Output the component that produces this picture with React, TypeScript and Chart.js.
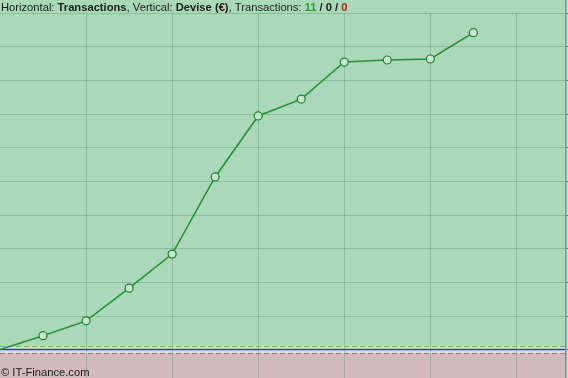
import React, { useEffect, useRef } from "react";
import { Chart, registerables } from "chart.js";

Chart.register(...registerables);

// Transaction index (0 = start) and cumulative amount in €
const transactionIndex = [0, 1, 2, 3, 4, 5, 6, 7, 8, 9, 10, 11];
const cumulativeValue = [0, 41, 85, 182, 283, 512, 693, 743, 853, 859, 862, 940];
const yGridValues = [100, 200, 300, 400, 500, 600, 700, 800, 900, 1000];
const xGridValues = [2, 4, 6, 8, 10, 12];

const headerParts = [
  { text: "Horizontal: ", bold: false, color: "#1a1a1a" },
  { text: "Transactions", bold: true, color: "#1a1a1a" },
  { text: ", Vertical: ", bold: false, color: "#1a1a1a" },
  { text: "Devise (€)", bold: true, color: "#1a1a1a" },
  { text: ", Transactions: ", bold: false, color: "#1a1a1a" },
  { text: "11", bold: true, color: "#2f9a2f" },
  { text: " / ", bold: true, color: "#1a1a1a" },
  { text: "0", bold: true, color: "#1a1a1a" },
  { text: " / ", bold: true, color: "#1a1a1a" },
  { text: "0", bold: true, color: "#b02020" },
];
const footerText = "© IT-Finance.com";

const BG_GREEN = "#a9d9b9";
const BG_PINK = "#d3babe";
const FONT = `"Liberation Sans", Arial, sans-serif`;

const backgroundPlugin = {
  id: "itfBackground",
  beforeDatasetsDraw(chart: any) {
    const { ctx, chartArea, scales } = chart;
    const x = scales.x;
    const y = scales.y;
    const y0 = Math.round(y.getPixelForValue(0)) + 0.5;
    const w = chartArea.right - chartArea.left;
    ctx.save();
    ctx.fillStyle = BG_GREEN;
    ctx.fillRect(chartArea.left, 0, w, y0);
    ctx.fillStyle = BG_PINK;
    ctx.fillRect(chartArea.left, y0, w, chart.height - y0);
    ctx.fillStyle = "#d6e0dc";
    ctx.fillRect(chartArea.left, y0 - 3, w, 7);
    ctx.lineWidth = 1;
    ctx.strokeStyle = "rgba(70,120,85,0.28)";
    for (const v of yGridValues) {
      const py = Math.round(y.getPixelForValue(v)) + 0.5;
      ctx.beginPath();
      ctx.moveTo(chartArea.left, py);
      ctx.lineTo(chartArea.right, py);
      ctx.stroke();
    }
    for (const v of xGridValues) {
      const px = Math.round(x.getPixelForValue(v)) + 0.5;
      ctx.beginPath();
      ctx.moveTo(px, 13);
      ctx.lineTo(px, chart.height);
      ctx.stroke();
    }
    ctx.setLineDash([5, 3]);
    ctx.strokeStyle = "#6cb67c";
    ctx.beginPath();
    ctx.moveTo(chartArea.left, y0 - 3);
    ctx.lineTo(chartArea.right, y0 - 3);
    ctx.stroke();
    ctx.strokeStyle = "#b07080";
    ctx.beginPath();
    ctx.moveTo(chartArea.left, y0 + 4);
    ctx.lineTo(chartArea.right, y0 + 4);
    ctx.stroke();
    ctx.setLineDash([]);
    ctx.strokeStyle = "#2a44a8";
    ctx.lineWidth = 1.5;
    ctx.beginPath();
    ctx.moveTo(chartArea.left, y0);
    ctx.lineTo(chartArea.right, y0);
    ctx.stroke();
    ctx.restore();
  },
  afterDraw(chart: any) {
    const { ctx, chartArea, scales } = chart;
    const y = scales.y;
    ctx.save();
    ctx.fillStyle = "#c4dce6";
    ctx.fillRect(chartArea.right, 0, chart.width - chartArea.right, chart.height);
    ctx.fillStyle = "#6e9a80";
    ctx.fillRect(chartArea.right, 0, 1.5, chart.height);
    ctx.fillStyle = "#5a6a78";
    for (const v of [0, ...yGridValues]) {
      const py = Math.round(y.getPixelForValue(v));
      ctx.fillRect(chartArea.right + 1.5, py, 2, 1);
    }
    ctx.textBaseline = "alphabetic";
    let tx = 1;
    for (const p of headerParts) {
      ctx.font = `${p.bold ? "bold " : ""}11.2px ${FONT}`;
      ctx.fillStyle = p.color;
      ctx.fillText(p.text, tx, 10.5);
      tx += ctx.measureText(p.text).width;
    }
    ctx.font = `11.2px ${FONT}`;
    ctx.fillStyle = "#1a1a1a";
    ctx.fillText(footerText, 1, 376);
    ctx.restore();
  },
};

export default function App() {
  const canvasRef = useRef<HTMLCanvasElement | null>(null);

  useEffect(() => {
    document.body.style.margin = "0";
    const canvas = canvasRef.current;
    if (!canvas) return;
    const chart = new Chart(canvas, {
      type: "line",
      data: {
        datasets: [
          {
            data: transactionIndex.map((t, i) => ({ x: t, y: cumulativeValue[i] })),
            borderColor: "#2a8a3a",
            borderWidth: 1.5,
            tension: 0,
            pointRadius: transactionIndex.map((t) => (t === 0 ? 0 : 4)),
            pointBorderWidth: 1.2,
            pointBorderColor: "#267a36",
            pointBackgroundColor: "#c4e8cc",
            fill: false,
            clip: false as any,
          },
        ],
      },
      options: {
        animation: false,
        responsive: false,
        devicePixelRatio: 1,
        layout: { autoPadding: false, padding: { left: 0, right: 3, top: 0, bottom: 0 } },
        plugins: { legend: { display: false }, tooltip: { enabled: false }, title: { display: false } },
        scales: {
          x: { type: "linear", display: false, min: 0, max: 13.13 },
          y: { type: "linear", display: false, min: -84.6, max: 1037.1 },
        },
      },
      plugins: [backgroundPlugin],
    });
    return () => chart.destroy();
  }, []);

  return (
    <div style={{ width: 568, height: 378 }}>
      <canvas ref={canvasRef} width={568} height={378} style={{ display: "block" }} />
    </div>
  );
}
